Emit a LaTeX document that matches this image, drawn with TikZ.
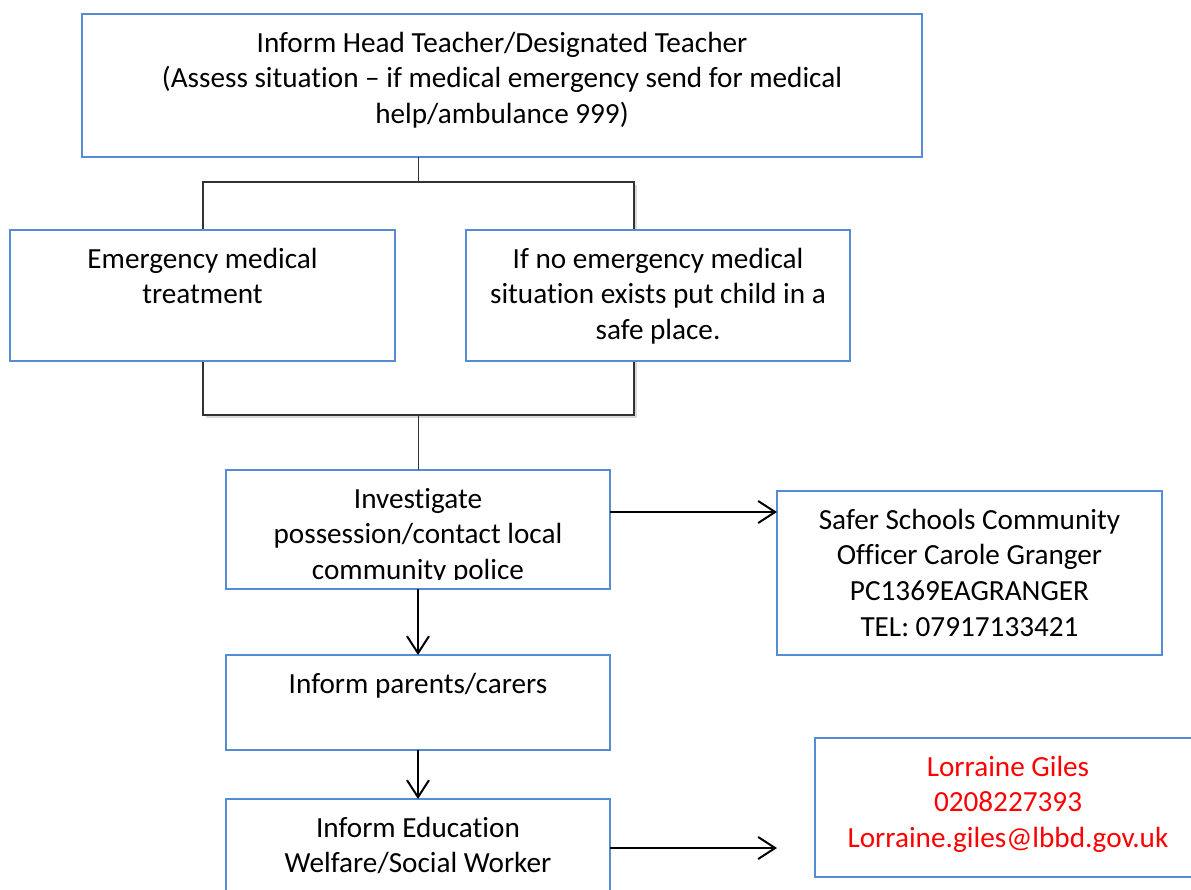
\documentclass[tikz,border=0pt]{standalone}
\usepackage{fontspec}
\setmainfont{Carlito}[Ligatures=NoCommon]
\usetikzlibrary{positioning,shadows,arrows.meta}
\definecolor{bb}{RGB}{84,141,212}
\definecolor{rr}{RGB}{255,0,0}
\definecolor{gg}{RGB}{50,50,50}
\tikzset{
  box/.style={rectangle, draw=bb, line width=1.6pt, fill=white, inner sep=0pt, outer sep=0pt},
  txt/.style={align=center, inner sep=0pt, font=\fontsize{29.2}{35.7}\selectfont},
  link/.style={line width=1.2pt, draw=gg},
  arr/.style={line width=2pt, -{Straight Barb[length=17pt,width=22pt]}},
}
\begin{document}
\begin{tikzpicture}
\useasboundingbox (0pt,0pt) rectangle (1191pt,-889pt);
% frame round the two choices
\node (join) [rectangle, minimum width=431pt, minimum height=233pt, draw=gg, line width=1.2pt, fill=white, drop shadow={shadow xshift=2.5pt, shadow yshift=-2.5pt, opacity=0.3}] at (418.5pt, -298.5pt) {};
% boxes
\node (head) [box, minimum width=840pt, minimum height=143pt] at (502pt, -85.5pt) {};
\node (emerg) [box, minimum width=385pt, minimum height=131pt] at (202.5pt, -295.5pt) {};
\node (noemerg) [box, minimum width=384pt, minimum height=131pt] at (658pt, -295.5pt) {};
\node (invest) [box, minimum width=384pt, minimum height=119pt] at (418pt, -529.5pt) {};
\node (officer) [box, minimum width=385pt, minimum height=164pt] at (969.5pt, -573pt) {};
\node (parents) [box, minimum width=384pt, minimum height=95pt] at (418pt, -702.5pt) {};
\node (welfare) [box, minimum width=384pt, minimum height=106pt] at (418pt, -852pt) {};
\node (giles) [box, minimum width=386pt, minimum height=139pt] at (1008pt, -807.5pt) {};
% texts
\node (headt) [txt, below=13pt of head.north] {\strut Inform Head Teacher/Designated Teacher\\(Assess situation – if medical emergency send for medical\\help/ambulance 999)};
\node (emergt) [txt, below=13pt of emerg.north] {\strut Emergency medical\\treatment};
\node (noemergt) [txt, below=13pt of noemerg.north] {\strut If no emergency medical\\situation exists put child in a\\safe place.};
\begin{scope}
\clip (invest.north west) rectangle ([yshift=10pt]invest.south east);
\node (investt) [txt, below=13pt of invest.north] {\strut Investigate\\possession/contact local\\community police};
\end{scope}
\node (officert) [txt, below=13pt of officer.north] {\strut Safer Schools Community\\Officer Carole Granger\\PC1369EAGRANGER\\TEL: 07917133421};
\node (parentst) [txt, below=13pt of parents.north] {\strut Inform parents/carers};
\node (welfaret) [txt, below=13pt of welfare.north] {\strut Inform Education\\Welfare/Social Worker};
\node (gilest) [txt, text=rr, below=13pt of giles.north] {\strut Lorraine Giles\\0208227393\\Lorraine.giles@lbbd.gov.uk};
% connectors
\coordinate (gilestip) at (777pt, -848pt);
\draw [link] (head.south -| join.north) -- (join.north);
\draw [link] (join.south) -- (join.south |- invest.north);
\draw [arr] ([yshift=17.5pt]invest.east) -- ([yshift=17.5pt]invest.east -| officer.west);
\draw [arr] (invest.south) -- (parents.north);
\draw [arr] (parents.south) -- (welfare.north);
\draw [arr] ([yshift=4pt]welfare.east) -- (gilestip);
\end{tikzpicture}
\end{document}
